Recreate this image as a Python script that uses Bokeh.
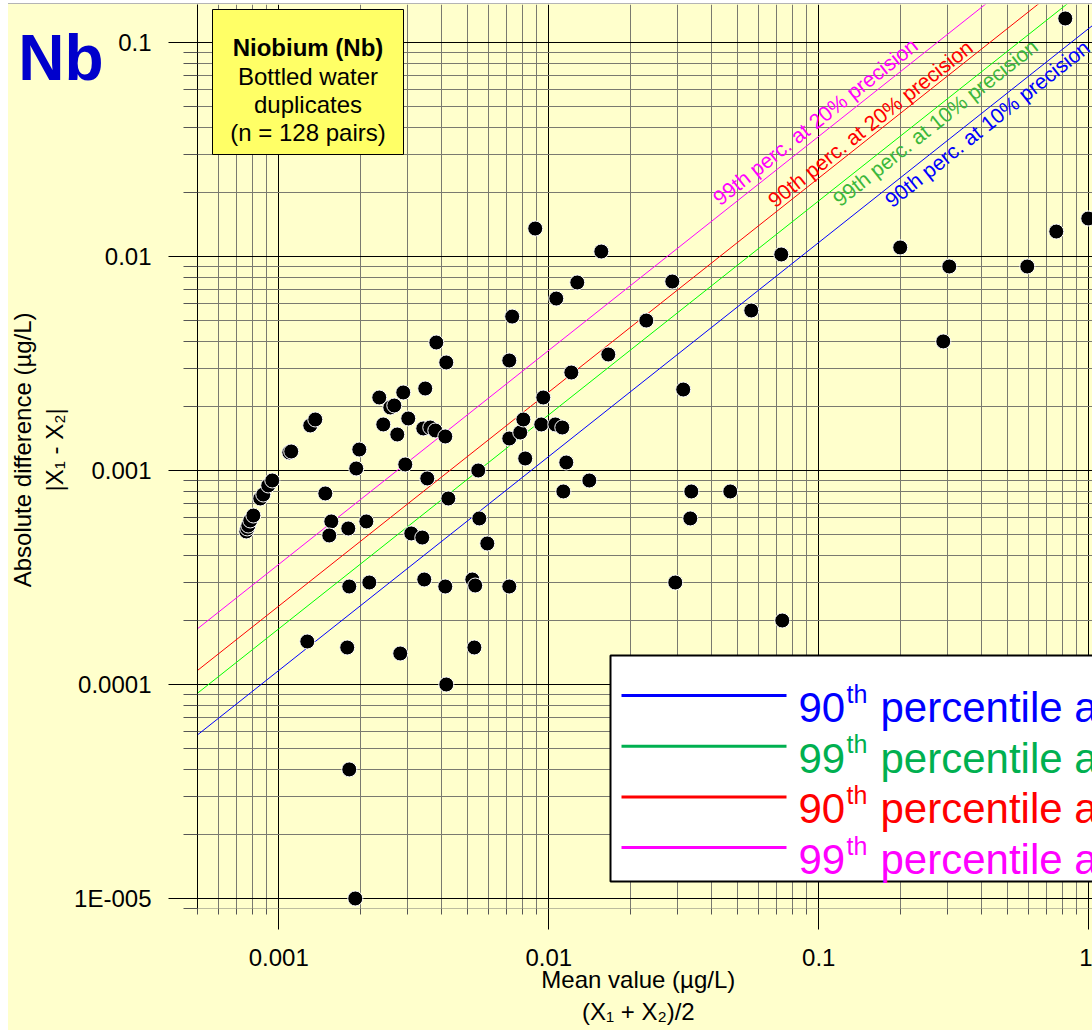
import math
from bokeh.plotting import figure
from bokeh.models import Range1d, FixedTicker, Label, LogAxis
from bokeh.embed import file_html
from bokeh.resources import INLINE

# ---------------- data ----------------
mean_value = [
    7.58e-4, 7.64e-4, 7.71e-4, 7.84e-4, 8.05e-4, 8.54e-4, 8.76e-4, 9.14e-4, 9.46e-4,
    1.308e-3, 1.365e-3, 1.094e-3, 1.112e-3, 1.487e-3, 1.987e-3, 1.936e-3, 1.565e-3,
    1.538e-3, 1.809e-3, 2.110e-3, 2.941e-3, 3.095e-3, 3.400e-3, 2.356e-3, 2.891e-3,
    3.487e-3, 2.588e-3, 2.678e-3, 3.017e-3, 2.438e-3, 2.747e-3, 3.429e-3, 3.640e-3,
    3.799e-3, 4.137e-3, 3.548e-3, 5.48e-3, 4.245e-3, 3.832e-3, 4.172e-3, 7.32e-3,
    7.14e-3, 8.91e-3, 0.01565, 0.01275, 0.01066, 0.01661, 0.01212, 9.54e-3,
    0.02297, 0.02867, 0.03148, 7.14e-3, 7.84e-3, 8.05e-3, 9.38e-3, 0.01057,
    0.01122, 8.18e-3, 0.01161, 0.01413, 0.01132, 5.53e-3, 5.92e-3, 1.824e-3,
    2.164e-3, 3.458e-3, 4.137e-3, 5.21e-3, 5.34e-3, 7.14e-3, 0.02941, 1.275e-3,
    1.793e-3, 2.818e-3, 5.30e-3, 4.172e-3, 1.824e-3, 1.920e-3, 0.03372, 0.04701,
    0.03343, 0.07325, 0.05623, 0.07263, 0.2003, 0.3043, 0.5919, 0.2891, 0.7580,
    0.8185, 0.9957,
]
abs_diff = [
    5.19e-4, 5.36e-4, 5.53e-4, 5.84e-4, 6.16e-4, 7.40e-4, 7.72e-4, 8.51e-4, 8.98e-4,
    1.623e-3, 1.731e-3, 1.214e-3, 1.227e-3, 7.81e-4, 1.253e-3, 1.022e-3, 5.78e-4,
    4.97e-4, 5.36e-4, 5.78e-4, 1.067e-3, 5.08e-4, 4.86e-4, 2.193e-3, 2.315e-3,
    2.416e-3, 1.970e-3, 2.012e-3, 1.750e-3, 1.641e-3, 1.473e-3, 1.572e-3, 1.588e-3,
    1.538e-3, 1.442e-3, 9.18e-4, 1.0e-3, 7.40e-4, 3.964e-3, 3.197e-3, 5.24e-3,
    3.266e-3, 0.01351, 0.01055, 7.56e-3, 6.36e-3, 3.484e-3, 2.870e-3, 2.193e-3,
    5.02e-3, 7.64e-3, 2.390e-3, 1.411e-3, 1.505e-3, 1.731e-3, 1.641e-3, 1.641e-3,
    1.588e-3, 1.138e-3, 1.090e-3, 8.98e-4, 7.98e-4, 5.97e-4, 4.56e-4, 2.870e-4,
    2.996e-4, 3.095e-4, 2.870e-4, 3.095e-4, 2.901e-4, 2.870e-4, 2.996e-4, 1.588e-4,
    1.489e-4, 1.396e-4, 1.489e-4, 1.0e-4, 4.01e-5, 1.0e-5, 7.98e-4, 7.98e-4,
    5.97e-4, 1.991e-4, 5.595e-3, 0.01022, 0.01102, 8.98e-3, 8.98e-3, 4.01e-3, 0.01308,
    0.1295, 0.01505,
]

# precision reference lines: |X1-X2| = factor * mean
precision_names = ["90th perc. at 10% precision", "99th perc. at 10% precision",
                   "90th perc. at 20% precision", "99th perc. at 20% precision"]
percentile_factor = [0.1163, 0.1821, 0.2326, 0.3643]
line_colors = ["#0000FF", "#00FF00", "#FF0000", "#FF00FF"]
label_colors = ["#0000FF", "#3CB83C", "#FF0000", "#FF00FF"]
legend_colors = ["#0000FF", "#00B050", "#FF0000", "#FF00FF"]
legend_numbers = ["90", "99", "90", "99"]
legend_rest = ["percentile at 10% precision", "percentile at 10% precision",
               "percentile at 20% precision", "percentile at 20% precision"]

x_major = [1e-3, 1e-2, 1e-1, 1.0]
x_tick_labels = ["0.001", "0.01", "0.1", "1"]
y_major = [1e-5, 1e-4, 1e-3, 1e-2, 1e-1]
y_tick_labels = ["1E-005", "0.0001", "0.001", "0.01", "0.1"]
minor = [m * 10.0 ** e for e in range(-7, 1) for m in range(2, 10)]

element_title = "Nb"
NB = "\u00a0\u00a0"   # non-breaking padding nudges the centred titles like the reference
x_title = "Mean value (µg/L)" + NB + "\n(X\u2081 + X\u2082)/2" + NB
y_title = NB + "Absolute difference (µg/L)\n" + NB + "|X\u2081 - X\u2082|"
box_lines = ["Niobium (Nb)", "Bottled water", "duplicates", "(n = 128 pairs)"]

# ---------------- geometry ----------------
FONT = "Liberation Sans"
BG = "#FFFFCC"
W, H = 1092, 1030
FL = 197            # frame left (page px)
FT = 4              # frame top
FW = W - FL
FH = 904
DEC_X, DEC_Y = 270.0, 214.0
X0 = 0.0005
Y1 = 0.1505
X1 = X0 * 10 ** (FW / DEC_X)
Y0 = Y1 / 10 ** (FH / DEC_Y)


def dx(px):
    return X0 * 10 ** ((px - FL) / DEC_X)


def dy(py):
    return Y1 / 10 ** ((py - FT) / DEC_Y)


p = figure(width=W, height=H, x_axis_type="log", y_axis_type="log",
           x_range=Range1d(X0, X1), y_range=Range1d(Y0, Y1),
           output_backend="svg", toolbar_location=None,
           min_border_left=FL, min_border_right=0, min_border_top=FT,
           min_border_bottom=H - FH - FT, background_fill_color=BG,
           border_fill_color=BG, border_fill_alpha=0.0,
           outline_line_color=None)
# white strip on the left and top edge of the picture, pale yellow elsewhere
p.styles = {"background": "linear-gradient(to right, #FFFFFF 8px, rgba(255,255,255,0) 8px), "
                          "linear-gradient(to bottom, #FFFFFF 3px, #B4B4B4 3px, #B4B4B4 4px, "
                          + BG + " 4px)"}

MINOR_C = "#7a7a70"
xt = FixedTicker(ticks=x_major, minor_ticks=minor)
yt = FixedTicker(ticks=y_major, minor_ticks=minor)
xa = p.xaxis[0]
ya = p.yaxis[0]
xa.ticker = xt
ya.ticker = yt
xa.major_label_overrides = dict(zip(x_major, x_tick_labels))
ya.major_label_overrides = dict(zip(y_major, y_tick_labels))
for ax in (xa, ya):
    ax.major_label_text_font = FONT
    ax.major_label_text_font_size = "24px"
    ax.major_label_text_color = "black"
    ax.major_tick_in = 0
    ax.minor_tick_in = 0
    ax.major_tick_line_color = "black"
    ax.minor_tick_line_color = "#555555"
    ax.axis_label_text_font = FONT
    ax.axis_label_text_font_size = "24px"
    ax.axis_label_text_font_style = "normal"
    ax.axis_label_text_color = "black"
    ax.axis_label_text_align = "center"
xa.axis_line_color = None
xa.major_tick_out = 21
xa.minor_tick_out = 6
xa.major_label_standoff = 19
xa.axis_label = x_title
xa.axis_label_standoff = -3
ya.axis_line_color = "black"
ya.major_tick_out = 29
ya.minor_tick_out = 14
ya.major_label_standoff = 17
ya.axis_label = y_title
ya.axis_label_standoff = 3

# element symbol, drawn as the single tick label of an extra (invisible) axis
y_nb = dy(57.5)
nb_axis = LogAxis(ticker=FixedTicker(ticks=[y_nb], minor_ticks=[]),
                  major_label_overrides={y_nb: element_title},
                  axis_line_color=None, major_tick_line_color=None,
                  minor_tick_line_color=None, major_tick_in=0, major_tick_out=0,
                  minor_tick_in=0, minor_tick_out=0, major_label_standoff=-98,
                  major_label_text_font=FONT, major_label_text_font_size="64px",
                  major_label_text_font_style="bold",
                  major_label_text_color="#0000CC")
p.add_layout(nb_axis, "left")

p.xgrid.ticker = xt
p.ygrid.ticker = yt
for g in (p.xgrid, p.ygrid):
    g.grid_line_color = "black"
    g.grid_line_width = 1
    g.minor_grid_line_color = MINOR_C
    g.minor_grid_line_width = 1

# precision lines
for k, c in zip(percentile_factor, line_colors):
    p.line([X0, X1], [k * X0, k * X1], line_color=c, line_width=1)

# data points
p.scatter(mean_value, abs_diff, size=15, fill_color="black",
          line_color="white", line_width=1)

# info box
p.quad(left=[dx(212)], right=[dx(403)], top=[dy(9)], bottom=[dy(154)],
       fill_color="#FFFF66", line_color="black", line_width=1)

# legend box (cut at right edge like the reference)
p.quad(left=[dx(610)], right=[dx(1500)], top=[dy(655)], bottom=[dy(881)],
       fill_color="white", line_color="black", line_width=2)
base = [707 + 50.7 * i for i in range(4)]
p.segment(x0=[dx(621)] * 4, x1=[dx(786)] * 4,
          y0=[dy(b - 12) for b in base], y1=[dy(b - 12) for b in base],
          line_color=legend_colors, line_width=3)


def lbl(px, py, text, size, color="black", bold=False, align="left",
        baseline="alphabetic", angle=0.0):
    p.add_layout(Label(x=dx(px), y=dy(py), text=text, text_font=FONT,
                       text_font_size=f"{size}px", text_color=color,
                       text_font_style="bold" if bold else "normal",
                       text_align=align, text_baseline=baseline, angle=angle))


for b, num, rest, c in zip(base, legend_numbers, legend_rest, legend_colors):
    lbl(798, b, num, 42, c)
    lbl(846, b - 14, "th", 25, c)
    lbl(880, b, rest, 42, c)

# rotated labels along the precision lines
ang = math.atan(DEC_Y / DEC_X)
anchors = [(887, 202), (835, 201), (770, 202), (715, 200)]
for (ax_, ay_), name, c in zip(anchors, precision_names, label_colors):
    lbl(ax_, ay_, name, 21, c, angle=ang)

# info box text
box_base = [47, 76, 104, 132]
for i, (t, b) in enumerate(zip(box_lines, box_base)):
    lbl(307.5, b, t, 24, bold=(i == 0), align="center")

open("out.html", "w").write(file_html(p, INLINE))
